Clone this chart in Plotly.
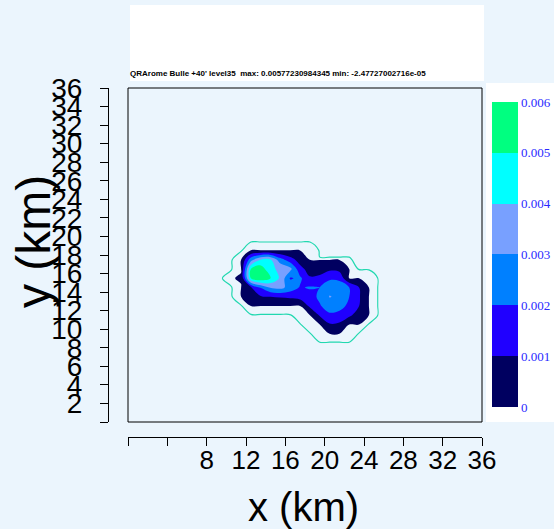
import numpy as np
import plotly.graph_objects as go

# ---------------- data ----------------
title_text = "QRArome Bulle +40' level35\u00a0 max: 0.00577230984345 min: -2.47727002716e-05"
x_ticks = [0, 4, 8, 12, 16, 20, 24, 28, 32, 36]
x_ticktext = ["", "", "8", "12", "16", "20", "24", "28", "32", "36"]
y_ticks = list(range(0, 37, 2))
y_ticktext = [""] + [str(v) for v in range(2, 37, 2)]
cb_ticks = [0, 0.001, 0.002, 0.003, 0.004, 0.005, 0.006]
cb_ticktext = ["0", "0.001", "0.002", "0.003", "0.004", "0.005", "0.006"]
band_colors = ["#000060", "#2000ff", "#0080ff", "#78a0ff", "#00ffff", "#00ff80"]

# grid nodes (km)
grid_x = [9.5, 10.5, 11.5, 12.5, 13.5, 14.5, 15.5, 16.5, 17.5, 18.5, 19.5,
          20.5, 21.5, 22.5, 23.5, 24.5, 25.5]
grid_y = [8.5, 9.5, 10.5, 11.5, 12.5, 13.5, 14.5, 15.5, 16.5, 17.5, 18.5, 19.5]

# field values in units of 1e-3 (estimated from the colour bands)
F = -0.024   # far field
R = -0.002   # rim just outside the positive area
Q = -0.021   # rim where the outer line hugs the fill
z_milli = [
    [F, F, F, F, F, F, F, F, F, F, F, F, F, F, F, F, F],
    [F, F, F, F, F, F, F, F, F, F, R, R, R, R, F, F, F],
    [F, F, F, F, F, F, F, F, F, R, R, 0.9, 0.8, R, R, F, F],
    [F, F, F, F, F, F, F, F, R, R, 1.1, 1.8, 1.7, 1.2, 0.5, R, F],
    [F, F, F, R, R, R, R, R, R, 1.2, 1.9, 2.5, 2.3, 1.8, 1.0, R, F],
    [F, F, R, 0.5, 0.9, 1.0, 1.1, 1.2, 1.4, 1.6, 2.2, 3.05, 2.8, 2.0, 1.1, R, F],
    [F, F, R, 0.9, 2.1, 3.1, 3.3, 2.6, 1.9, 2.1, 2.0, 2.7, 2.7, 2.0, 1.0, R, F],
    [F, R, 0.003, 5.0, 5.77, 5.0, 3.8, 1.9, 2.2, 1.1, 1.3, 1.8, 1.7, R, R, R, F],
    [F, F, R, 5.0, 5.6, 4.2, 3.8, 3.3, 1.3, 0.6, 0.4, 0.8, 0.7, R, F, F, F],
    [F, F, R, 2.6, 4.0, 4.1, 2.4, 1.4, 0.6, Q, Q, Q, Q, Q, F, F, F],
    [F, F, F, R, R, R, R, R, R, R, F, F, F, F, F, F, F],
    [F, F, F, F, F, F, F, F, F, F, F, F, F, F, F, F, F],
]
outline_level_milli = -0.0218

z = np.array(z_milli) * 1e-3
outline_level = outline_level_milli * 1e-3

# ---------------- figure ----------------
W, H = 554, 529
ML, MR, MT, MB = 108, 72, 88, 92
PW, PH = W - ML - MR, H - MT - MB


def px(xp):
    return (xp - ML) / PW


def py(yp):
    return (H - MB - yp) / PH


bg = "#ebf5fd"

# discrete colourscale for the filled contour: lowest (below 0) band transparent
nb = len(band_colors) + 1
fill_scale = [[0, "rgba(0,0,0,0)"], [1 / nb, "rgba(0,0,0,0)"]]
for i, c in enumerate(band_colors):
    fill_scale.append([(i + 1) / nb, c])
    fill_scale.append([(i + 2) / nb, c])

cb_scale = []
for i, c in enumerate(band_colors):
    cb_scale.append([i / len(band_colors), c])
    cb_scale.append([(i + 1) / len(band_colors), c])

fig = go.Figure()
fig.add_trace(go.Contour(
    x=grid_x, y=grid_y, z=z,
    autocontour=False,
    contours=dict(start=0, end=0.006, size=0.001, coloring="fill", showlines=False),
    colorscale=fill_scale, showscale=False, line=dict(width=0),
    hoverinfo="skip",
))
fig.add_trace(go.Contour(
    x=grid_x, y=grid_y, z=z,
    autocontour=False,
    contours=dict(start=outline_level, end=outline_level, size=1e-6, coloring="none"),
    line=dict(color="#22d8b0", width=1.2),
    showscale=False, hoverinfo="skip",
))
fig.add_trace(go.Scatter(
    x=[0], y=[0], mode="markers", hoverinfo="skip", showlegend=False,
    marker=dict(color=[0], cmin=0, cmax=0.006, colorscale=cb_scale, opacity=0,
                showscale=True,
                colorbar=dict(
                    thickness=26, thicknessmode="pixels",
                    len=305, lenmode="pixels",
                    x=px(492), xanchor="left", xpad=0,
                    y=py(254.5), yanchor="middle", ypad=0,
                    outlinewidth=0, bgcolor="rgba(0,0,0,0)",
                    tickvals=cb_ticks, ticktext=cb_ticktext, ticks="",
                    ticklabelposition="outside",
                    tickfont=dict(family="Liberation Serif, Times New Roman, serif",
                                  size=13, color="#2a2aff"),
                )),
))

axis_font = dict(family="Liberation Sans, Arial, sans-serif", size=26, color="black")
fig.update_layout(
    width=W, height=H,
    margin=dict(l=ML, r=MR, t=MT, b=MB, pad=0, autoexpand=False),
    paper_bgcolor=bg, plot_bgcolor=bg,
    showlegend=False,
    xaxis=dict(range=[0, 36], domain=[px(128), 1], anchor="free", position=0,
               showline=True, linecolor="black", linewidth=1,
               ticks="outside", ticklen=8, tickcolor="black", tickwidth=1,
               tickvals=x_ticks, ticktext=x_ticktext, tickfont=axis_font,
               ticklabelstandoff=-8,
               showgrid=False, zeroline=False, fixedrange=True),
    yaxis=dict(range=[0, 36], domain=[py(422), 1], anchor="free", position=0,
               showline=True, linecolor="black", linewidth=1,
               ticks="outside", ticklen=8, tickcolor="black", tickwidth=1,
               tickvals=y_ticks, ticktext=y_ticktext,
               tickfont=dict(family="Liberation Sans Narrow, Arial Narrow, Liberation Sans, sans-serif",
                             size=28, color="black"),
               ticklabelstandoff=12,
               showgrid=False, zeroline=False, fixedrange=True),
    shapes=[
        dict(type="rect", xref="paper", yref="paper", x0=px(130), x1=px(484),
             y0=py(81), y1=py(5), fillcolor="white", line=dict(width=0), layer="below"),
        dict(type="rect", xref="paper", yref="paper", x0=px(486), x1=px(560),
             y0=py(422), y1=py(83), fillcolor="white", line=dict(width=0), layer="below"),
        dict(type="rect", xref="x domain", yref="y domain", x0=0, x1=1, y0=0, y1=1,
             line=dict(color="black", width=1), fillcolor="rgba(0,0,0,0)", layer="above"),
    ],
    annotations=[
        dict(text="<b>" + title_text + "</b>", xref="paper", yref="paper",
             x=px(128), y=py(73), xanchor="left", yanchor="middle", showarrow=False,
             font=dict(family="Liberation Sans, Arial, sans-serif", size=8, color="black")),
        dict(text="x (km)", xref="paper", yref="paper", x=px(303), y=py(507),
             xanchor="center", yanchor="middle", showarrow=False,
             font=dict(family="Liberation Sans, Arial, sans-serif", size=40, color="black")),
        dict(text="y (km)", xref="paper", yref="paper", x=px(33), y=py(242),
             xanchor="center", yanchor="middle", showarrow=False, textangle=-90,
             font=dict(family="Liberation Sans Narrow, Liberation Sans, Arial, sans-serif",
                       size=48, color="black")),
    ],
)

fig.write_html("out.html", config={"displayModeBar": False})
